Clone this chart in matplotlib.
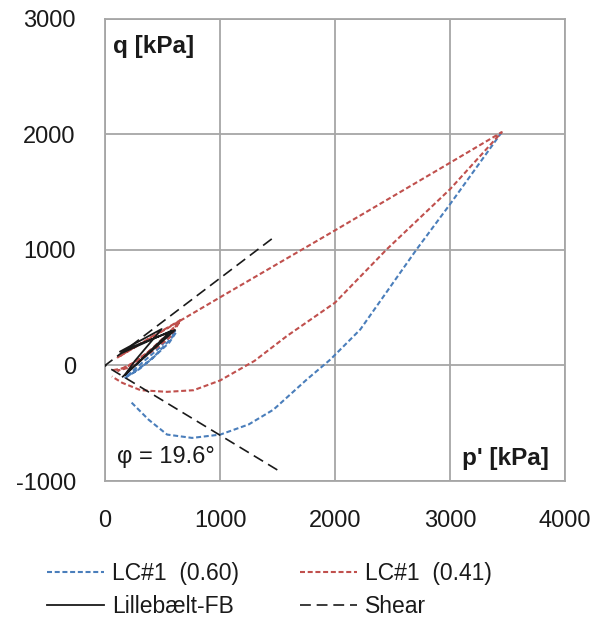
import matplotlib
matplotlib.use("Agg")
import matplotlib.pyplot as plt
import numpy as np

plt.rcParams['font.family'] = ['Liberation Sans', 'DejaVu Sans']
plt.rcParams['axes.unicode_minus'] = False

# LC#1 (0.60) - blue (NaN = segment hidden under the red line)
blue_p = [170, 300, 430, 580, 610, 470, 330, 180, 250, 400, 560, 620, np.nan,
          3450, 3000, 2710, 2220, 1960, 1755, 1465, 1250, 1003, 757, 540, 380, 220]
blue_q = [-110, -30, 80, 240, 300, 150, 30, -100, -60, 50, 200, 290, np.nan,
          2020, 1396, 1006, 312, 52, -121, -382, -510, -598, -627, -598, -470, -310]

# LC#1 (0.41) - red
red_p = [70, 180, 300, 420, 540, 650, 520, 380, 240, 110, 200, 380, 560, 660, 400, 110,
         1000, 2000, 3000, 3450, 3000, 2450, 2000, 1580, 1300, 1000, 770, 540, 310, 150, 60]
red_q = [-40, -20, 60, 150, 250, 380, 250, 120, 20, -45, -20, 100, 240, 395, 245, 70,
         590, 1170, 1755, 2020, 1526, 1006, 544, 254, 40, -130, -214, -228, -214, -150, -95]

# Lillebaelt-FB - black solid
black_p = [154, 609, 130, 493, 260, 170, 575, 140]
black_q = [-97, 307, 120, 316, 40, -85, 300, 105]

# Shear line
shear_p = [1450, 0, 1500]
shear_q = [1096, 0, -905]

xticks = [0, 1000, 2000, 3000, 4000]
yticks = [-1000, 0, 1000, 2000, 3000]

fig = plt.figure(figsize=(6.08, 6.17), dpi=100)
ax = fig.add_axes([105/608, 1-481/617, 460/608, 462/617])

blue_c = '#4a7ebb'
red_c = '#c0504d'

l1, = ax.plot(blue_p, blue_q, color=blue_c, lw=1.5, dashes=(2.4, 1.3), label='LC#1  (0.60)', zorder=3)
l2, = ax.plot(red_p, red_q, color=red_c, lw=1.5, dashes=(2.4, 1.3), label='LC#1  (0.41)', zorder=4)
l3, = ax.plot(black_p, black_q, color='#1a1a1a', lw=1.3, label='Lillebælt-FB', zorder=5)
l4, = ax.plot(shear_p, shear_q, color='#1a1a1a', lw=1.2, dashes=(6.5, 3.5), label='Shear', zorder=6)

ax.set_xlim(0, 4000)
ax.set_ylim(-1000, 3000)
ax.set_xticks(xticks)
ax.set_yticks(yticks)
ax.grid(True, color='#a6a6a6', lw=1.3, zorder=0)
for s in ax.spines.values():
    s.set_color('#a6a6a6')
    s.set_linewidth(1.3)
ax.tick_params(length=0, labelsize=17, pad=21, colors='#1a1a1a')
ax.set_axisbelow(True)

ax.text(0.017, 0.926, 'q [kPa]', transform=ax.transAxes, fontsize=17.5,
        fontweight='bold', ha='left', va='baseline', color='#1a1a1a')
ax.text(0.965, 0.035, "p' [kPa]", transform=ax.transAxes, fontsize=17.5,
        fontweight='bold', ha='right', va='baseline', color='#1a1a1a')
ax.text(0.026, 0.039, 'φ = 19.6°', transform=ax.transAxes, fontsize=17,
        ha='left', va='baseline', color='#1a1a1a')

leg = fig.legend(handles=[l1, l3, l2, l4], ncol=2, loc='upper left',
                 bbox_to_anchor=(47/608, 1-562/617), frameon=False, fontsize=16.5,
                 handlelength=2.5, handletextpad=0.35, columnspacing=2.65,
                 labelspacing=0.42, borderpad=0, borderaxespad=0)
for t in leg.get_texts():
    t.set_color('#1a1a1a')

fig.savefig('out.png', dpi=100)
